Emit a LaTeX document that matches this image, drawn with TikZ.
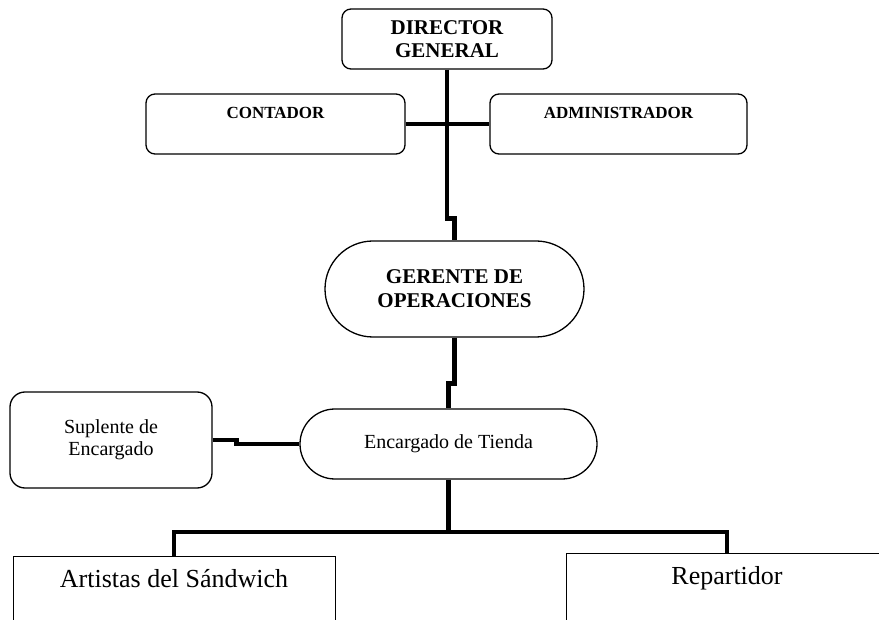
\documentclass[tikz,border=0pt]{standalone}
\usepackage{fontspec}
\setmainfont{Liberation Serif}
\usetikzlibrary{positioning}
\tikzstyle{roundbox} = [rectangle, draw, line width=1.3pt, rounded corners=9pt, align=center]
\tikzstyle{pillbox} = [rectangle, draw, line width=1.3pt, align=center]
\tikzstyle{flatbox} = [rectangle, draw, line width=1pt, anchor=north, minimum width=322pt, inner ysep=4pt, text height=27pt, text depth=60pt, font=\fontsize{26}{30}\selectfont]
\tikzstyle{link} = [draw, line width=4.5pt]

\begin{document}
\begin{tikzpicture}[x=1pt, y=-1pt]
            \useasboundingbox (0,0) rectangle (879,620);
            \clip (0,0) rectangle (879,620);
            % Nodes
            \node[roundbox, minimum width=210pt, minimum height=60pt, font=\fontsize{21}{23}\selectfont\bfseries] (director) at (447,39) {DIRECTOR\\GENERAL};
            \node[roundbox, minimum width=259pt, inner ysep=4pt, text height=21pt, text depth=31pt, font=\fontsize{17}{20}\selectfont\bfseries] (contador) at (275.5,124) {CONTADOR};
            \node[roundbox, minimum width=257pt, inner ysep=4pt, text height=21pt, text depth=31pt, font=\fontsize{17}{20}\selectfont\bfseries] (admin) at (618.5,124) {ADMINISTRADOR};
            \node[pillbox, rounded corners=48pt, minimum width=259pt, minimum height=96pt, font=\fontsize{21}{24}\selectfont\bfseries] (gerente) at (454.5,289) {GERENTE DE\\OPERACIONES};
            \node[pillbox, rounded corners=35pt, minimum width=297pt, minimum height=70pt, font=\fontsize{20}{24}\selectfont] (encargado) at (448.5,444) {Encargado de Tienda};
            \node[roundbox, rounded corners=15pt, minimum width=202pt, minimum height=96pt, font=\fontsize{20}{22}\selectfont] (suplente) at (111,440) {Suplente de\\Encargado};
            \node[flatbox] (artistas) at (174,556) {Artistas del Sándwich};
            \node[flatbox] (repartidor) at (727,553) {Repartidor};
            \coordinate (bar) at (448.5,532);

            % Edges
            \draw[link] (director.south) -- ++(0,149) -| (gerente.north);
            \draw[link] (contador.east) -- (admin.west);
            \draw[link] (gerente.south) -- ++(0,46) -| (encargado.north);
            \draw[link] (suplente.east) -- ++(24,0) |- (encargado.west);
            \draw[link] (encargado.south) -- (bar);
            \draw[link] (artistas.north) |- (bar) -| (repartidor.north);
\end{tikzpicture}
\end{document}
